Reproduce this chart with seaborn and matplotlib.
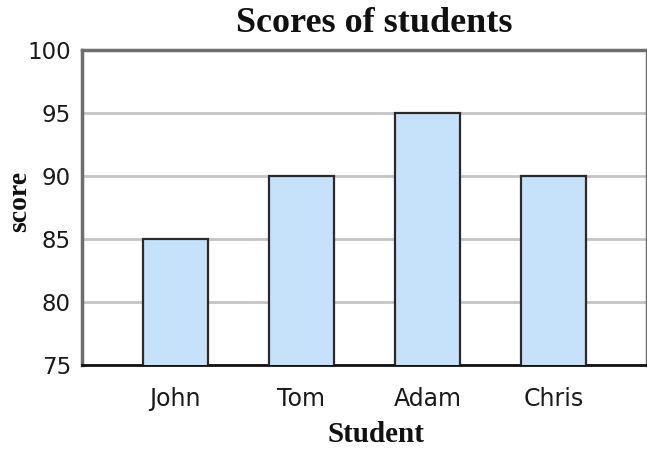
import matplotlib
matplotlib.use("Agg")
import matplotlib.pyplot as plt
import seaborn as sns
import pandas as pd

students = ["John", "Tom", "Adam", "Chris"]
scores = [85, 90, 95, 90]
yticks = [75, 80, 85, 90, 95, 100]

sns.set_theme(style="white")
plt.rcParams["font.family"] = ["DejaVu Sans"]

df = pd.DataFrame({"Student": students, "score": scores})

fig = plt.figure(figsize=(6.47, 4.49), dpi=100)
ax = fig.add_axes([82 / 647, 84 / 449, 565 / 647, 315 / 449])

sns.barplot(data=df, x="Student", y="score", ax=ax, color="#c6e2fb",
            saturation=1, width=0.52, edgecolor="#2a2a2a", linewidth=1.6,
            zorder=3)

ax.set_ylim(75, 100)
ax.set_xlim(-0.74, 3.74)
ax.set_yticks(yticks)
ax.set_yticklabels([str(v) for v in yticks], fontsize=16.5, color="#1a1a1a")
for lbl in ax.get_xticklabels():
    lbl.set_fontsize(17)
    lbl.set_color("#1a1a1a")
ax.tick_params(axis="x", pad=16, length=0)
ax.tick_params(axis="y", pad=8, length=0)
ax.yaxis.grid(True, color="#c4c4c4", linewidth=2, zorder=0)
ax.set_axisbelow(True)

for side in ["left", "top", "right"]:
    ax.spines[side].set_color("#6e6e6e")
    ax.spines[side].set_linewidth(2.5)
ax.spines["bottom"].set_color("#111111")
ax.spines["bottom"].set_linewidth(2)

ax.set_xlabel("")
ax.set_ylabel("")
fig.text(374 / 647, 1 - 24 / 449, "Scores of students", ha="center",
         va="center", fontsize=26, fontweight="bold",
         family="Liberation Serif", color="#111111")
fig.text(376 / 647, 1 - 434 / 449, "Student", ha="center", va="center",
         fontsize=21, fontweight="bold", family="Liberation Serif",
         color="#111111")
fig.text(20 / 647, 1 - 201 / 449, "score", ha="center", va="center",
         rotation=90, fontsize=20, fontweight="bold",
         family="Liberation Serif", color="#111111")

fig.savefig("out.png", dpi=100)
